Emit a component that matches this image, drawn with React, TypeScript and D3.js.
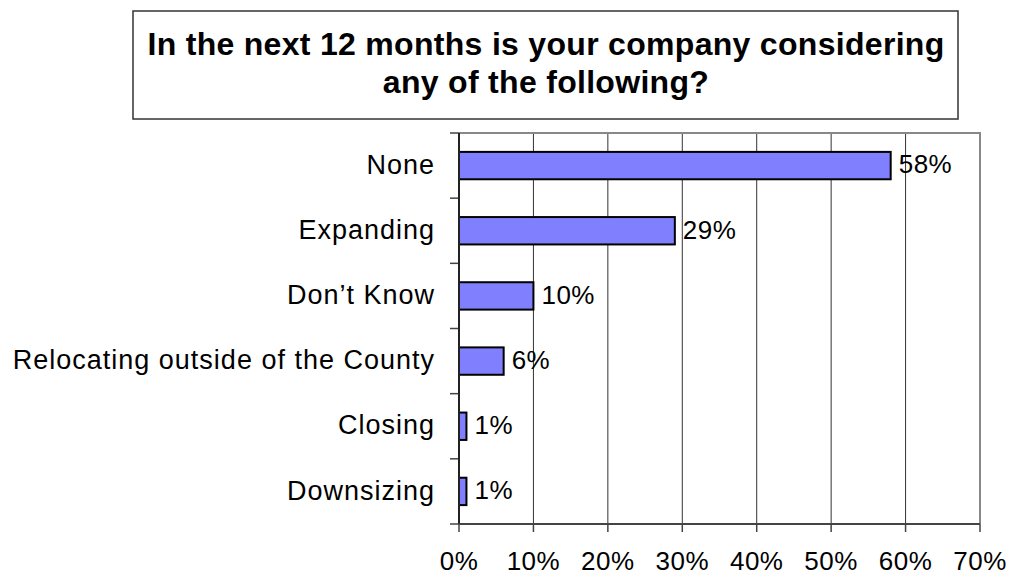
import React, { useEffect, useRef } from "react";
import * as d3 from "d3";

const categories = [
  "None",
  "Expanding",
  "Don\u2019t Know",
  "Relocating outside of the County",
  "Closing",
  "Downsizing",
];
const values = [58, 29, 10, 6, 1, 1];
const xTicks = [0, 10, 20, 30, 40, 50, 60, 70];
const titleLines = [
  "In the next 12 months is your company considering",
  "any of the following?",
];

const App: React.FC = () => {
  const svgRef = useRef<SVGSVGElement | null>(null);

  useEffect(() => {
    if (!svgRef.current) return;
    const width = 1010;
    const height = 575;
    const plot = { left: 459, right: 980, top: 133, bottom: 524 };
    const font = "'Liberation Sans', Arial, sans-serif";

    const svg = d3.select(svgRef.current);
    svg.selectAll("*").remove();

    svg.append("rect").attr("width", width).attr("height", height).attr("fill", "white");

    // title box
    svg
      .append("rect")
      .attr("x", 133)
      .attr("y", 11)
      .attr("width", 825)
      .attr("height", 108)
      .attr("fill", "white")
      .attr("stroke", "#333")
      .attr("stroke-width", 1.5);

    svg
      .append("g")
      .selectAll("text")
      .data(titleLines)
      .join("text")
      .attr("x", 546)
      .attr("y", (_, i) => 55 + i * 38)
      .attr("text-anchor", "middle")
      .attr("font-family", font)
      .attr("font-weight", "bold")
      .attr("font-size", 32)
      .attr("letter-spacing", 0.3)
      .attr("fill", "black")
      .text((d) => d);

    const x = d3.scaleLinear().domain([0, 70]).range([plot.left, plot.right]);
    const y = d3
      .scaleBand<string>()
      .domain(categories)
      .range([plot.top, plot.bottom])
      .paddingInner(0.58)
      .paddingOuter(0.29);

    // gridlines
    svg
      .append("g")
      .selectAll("line")
      .data(xTicks.slice(1, -1))
      .join("line")
      .attr("x1", (d) => x(d))
      .attr("x2", (d) => x(d))
      .attr("y1", plot.top)
      .attr("y2", plot.bottom)
      .attr("stroke", "#333")
      .attr("stroke-width", 1);

    // frame top / right
    svg
      .append("path")
      .attr("d", `M${plot.left},${plot.top}H${plot.right}V${plot.bottom}`)
      .attr("fill", "none")
      .attr("stroke", "#888")
      .attr("stroke-width", 2);

    // bars
    svg
      .append("g")
      .selectAll("rect")
      .data(values)
      .join("rect")
      .attr("x", x(0))
      .attr("y", (_, i) => y(categories[i])!)
      .attr("width", (d) => x(d) - x(0))
      .attr("height", y.bandwidth())
      .attr("fill", "#8080FF")
      .attr("stroke", "black")
      .attr("stroke-width", 2);

    // value labels
    svg
      .append("g")
      .selectAll("text")
      .data(values)
      .join("text")
      .attr("x", (d) => x(d) + 8)
      .attr("y", (_, i) => y(categories[i])! + y.bandwidth() / 2)
      .attr("dy", "0.3em")
      .attr("font-family", font)
      .attr("font-size", 26)
      .attr("letter-spacing", 0.5)
      .attr("fill", "black")
      .text((d) => `${d}%`);

    // left axis
    const step = y.step();
    const bandEdges = d3.range(categories.length + 1).map((i) => plot.top + i * step);
    svg
      .append("g")
      .selectAll("line")
      .data(bandEdges)
      .join("line")
      .attr("x1", plot.left - 9)
      .attr("x2", plot.left)
      .attr("y1", (d) => d)
      .attr("y2", (d) => d)
      .attr("stroke", "#444")
      .attr("stroke-width", 1.5);
    svg
      .append("line")
      .attr("x1", plot.left)
      .attr("x2", plot.left)
      .attr("y1", plot.top)
      .attr("y2", plot.bottom)
      .attr("stroke", "#222")
      .attr("stroke-width", 2);

    svg
      .append("g")
      .selectAll("text")
      .data(categories)
      .join("text")
      .attr("x", 435)
      .attr("y", (d) => y(d)! + y.bandwidth() / 2)
      .attr("dy", "0.3em")
      .attr("text-anchor", "end")
      .attr("font-family", font)
      .attr("font-size", 27)
      .attr("letter-spacing", 1)
      .attr("fill", "black")
      .text((d) => d);

    // bottom axis
    svg
      .append("line")
      .attr("x1", plot.left)
      .attr("x2", plot.right)
      .attr("y1", plot.bottom)
      .attr("y2", plot.bottom)
      .attr("stroke", "#444")
      .attr("stroke-width", 2);
    svg
      .append("g")
      .selectAll("line")
      .data(xTicks)
      .join("line")
      .attr("x1", (d) => x(d))
      .attr("x2", (d) => x(d))
      .attr("y1", plot.bottom)
      .attr("y2", plot.bottom + 8)
      .attr("stroke", "#444")
      .attr("stroke-width", 1.5);
    svg
      .append("g")
      .selectAll("text")
      .data(xTicks)
      .join("text")
      .attr("x", (d) => x(d))
      .attr("y", 570)
      .attr("text-anchor", "middle")
      .attr("font-family", font)
      .attr("font-size", 26)
      .attr("letter-spacing", 0.5)
      .attr("fill", "black")
      .text((d) => `${d}%`);
  }, []);

  return (
    <svg
      ref={svgRef}
      width={1010}
      height={575}
      style={{ position: "absolute", left: 0, top: 0, display: "block" }}
    />
  );
};

export default App;
